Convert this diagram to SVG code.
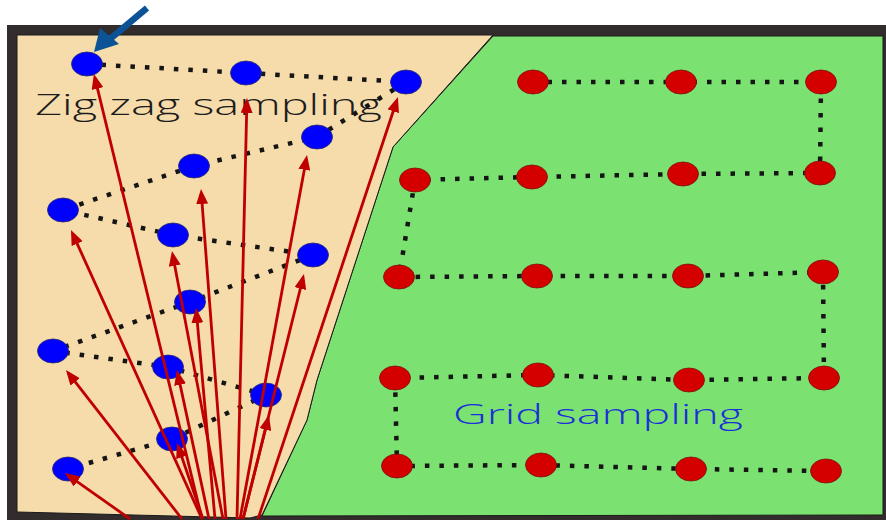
<svg xmlns="http://www.w3.org/2000/svg" width="886" height="520" viewBox="0 0 886 520">
<defs>
<style>
.dot{stroke:#151515;stroke-width:4.5;stroke-dasharray:4.5 10;fill:none}
.blue{fill:#0000ff;stroke:#2a2a6a;stroke-width:0.8}
.red{fill:#d40000;stroke:#7a1010;stroke-width:0.8}
.arr{stroke:#c00000;stroke-width:2.8;fill:none;marker-end:url(#ah)}
.lbl{font-family:"Open Sans","DejaVu Sans",sans-serif;font-weight:300}
</style>
<marker id="ah" markerUnits="userSpaceOnUse" viewBox="0 0 15 12" markerWidth="15" markerHeight="12" refX="11" refY="6" orient="auto">
<path d="M0,0 L15,6 L0,12 z" fill="#c00000"/>
</marker>
</defs>
<rect width="886" height="520" fill="#ffffff"/>
<g id="frame">
<rect x="7" y="25" width="879" height="495" fill="#322c2c"/>
<polygon points="493,36 883,36 883,515 262,516 307,420 317,380 393,147" fill="#7be271" stroke="#1a1a1a" stroke-width="1"/>
<polygon points="17,35 493,35 393,147 317,380 307,420 262,515 250,518 17,512" fill="#f6dbab" stroke="#1a1a1a" stroke-width="1"/>
</g>
<g id="connectors">
<polyline class="dot" points="87,64 246,73 406,82 317,137 194,166 63,210 173,235 313,255 190,302 53,351 168,367 266,395 172,439 68,469"/>
<polyline class="dot" points="533,82 681,82 821,82 820,173 683,174 532,177 415,180 399,277 537,276 688,276 823,272 824,378 689,380 538,375 395,378 397,466 541,465 691,469 826,471"/>
</g>
<g id="zigzag-points">
<g id="z1"><ellipse class="blue" cx="87" cy="64" rx="15.5" ry="12"/></g>
<g id="z2"><ellipse class="blue" cx="246" cy="73" rx="15.5" ry="12"/></g>
<g id="z3"><ellipse class="blue" cx="406" cy="82" rx="15.5" ry="12"/></g>
<g id="z4"><ellipse class="blue" cx="317" cy="137" rx="15.5" ry="12"/></g>
<g id="z5"><ellipse class="blue" cx="194" cy="166" rx="15.5" ry="12"/></g>
<g id="z6"><ellipse class="blue" cx="63" cy="210" rx="15.5" ry="12"/></g>
<g id="z7"><ellipse class="blue" cx="173" cy="235" rx="15.5" ry="12"/></g>
<g id="z8"><ellipse class="blue" cx="313" cy="255" rx="15.5" ry="12"/></g>
<g id="z9"><ellipse class="blue" cx="190" cy="302" rx="15.5" ry="12"/></g>
<g id="z10"><ellipse class="blue" cx="53" cy="351" rx="15.5" ry="12"/></g>
<g id="z11"><ellipse class="blue" cx="168" cy="367" rx="15.5" ry="12"/></g>
<g id="z12"><ellipse class="blue" cx="266" cy="395" rx="15.5" ry="12"/></g>
<g id="z13"><ellipse class="blue" cx="172" cy="439" rx="15.5" ry="12"/></g>
<g id="z14"><ellipse class="blue" cx="68" cy="469" rx="15.5" ry="12"/></g>
</g>
<g id="grid-points">
<g id="g1"><ellipse class="red" cx="533" cy="82" rx="15.5" ry="12"/></g>
<g id="g2"><ellipse class="red" cx="681" cy="82" rx="15.5" ry="12"/></g>
<g id="g3"><ellipse class="red" cx="821" cy="82" rx="15.5" ry="12"/></g>
<g id="g4"><ellipse class="red" cx="820" cy="173" rx="15.5" ry="12"/></g>
<g id="g5"><ellipse class="red" cx="683" cy="174" rx="15.5" ry="12"/></g>
<g id="g6"><ellipse class="red" cx="532" cy="177" rx="15.5" ry="12"/></g>
<g id="g7"><ellipse class="red" cx="415" cy="180" rx="15.5" ry="12"/></g>
<g id="g8"><ellipse class="red" cx="399" cy="277" rx="15.5" ry="12"/></g>
<g id="g9"><ellipse class="red" cx="537" cy="276" rx="15.5" ry="12"/></g>
<g id="g10"><ellipse class="red" cx="688" cy="276" rx="15.5" ry="12"/></g>
<g id="g11"><ellipse class="red" cx="823" cy="272" rx="15.5" ry="12"/></g>
<g id="g12"><ellipse class="red" cx="824" cy="378" rx="15.5" ry="12"/></g>
<g id="g13"><ellipse class="red" cx="689" cy="380" rx="15.5" ry="12"/></g>
<g id="g14"><ellipse class="red" cx="538" cy="375" rx="15.5" ry="12"/></g>
<g id="g15"><ellipse class="red" cx="395" cy="378" rx="15.5" ry="12"/></g>
<g id="g16"><ellipse class="red" cx="397" cy="466" rx="15.5" ry="12"/></g>
<g id="g17"><ellipse class="red" cx="541" cy="465" rx="15.5" ry="12"/></g>
<g id="g18"><ellipse class="red" cx="691" cy="469" rx="15.5" ry="12"/></g>
<g id="g19"><ellipse class="red" cx="826" cy="471" rx="15.5" ry="12"/></g>
</g>
<g id="labels">
<text class="lbl" x="35" y="115" font-size="29" fill="#1c1c1c" textLength="347" lengthAdjust="spacingAndGlyphs">Zig zag sampling</text>
<text class="lbl" x="453" y="424" font-size="28" fill="#1b2fd8" textLength="290" lengthAdjust="spacingAndGlyphs">Grid sampling</text>
</g>
<g id="arrows">
<line class="arr" x1="202" y1="519" x2="94.9" y2="77.9"/>
<line class="arr" x1="237" y1="519" x2="246.9" y2="102"/>
<line class="arr" x1="258" y1="519" x2="396.7" y2="100.8"/>
<line class="arr" x1="240" y1="519" x2="306.3" y2="158.9"/>
<line class="arr" x1="226" y1="519" x2="201.3" y2="193"/>
<line class="arr" x1="202" y1="519" x2="72.6" y2="233.6"/>
<line class="arr" x1="223" y1="519" x2="172.7" y2="254.9"/>
<line class="arr" x1="243" y1="519" x2="303" y2="277.9"/>
<line class="arr" x1="215" y1="519" x2="196.4" y2="312"/>
<line class="arr" x1="182" y1="519" x2="68.4" y2="373.2"/>
<line class="arr" x1="209" y1="519" x2="177.8" y2="373.9"/>
<line class="arr" x1="243" y1="519" x2="268" y2="418.9"/>
<line class="arr" x1="203" y1="519" x2="178.3" y2="446.8"/>
<line class="arr" x1="130" y1="519" x2="68.2" y2="475.3"/>
</g>
<g id="pointer">
<line x1="147" y1="8" x2="110" y2="39" stroke="#0b5394" stroke-width="6.5"/>
<polygon points="94,52 100,28 119,44" fill="#0b5394"/>
</g>
</svg>
